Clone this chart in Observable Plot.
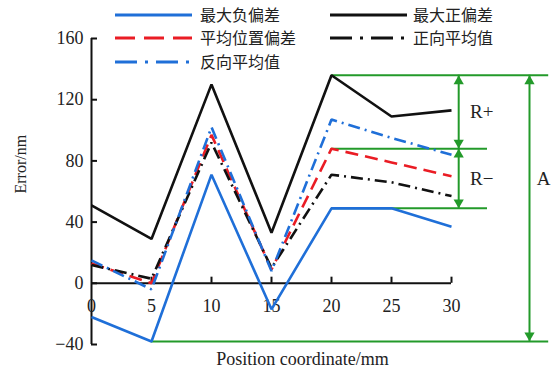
<!DOCTYPE html>
<html><head><meta charset="utf-8">
<script src="https://cdn.jsdelivr.net/npm/d3@7"></script>
<script src="https://cdn.jsdelivr.net/npm/@observablehq/plot@0.6"></script>
<style>
body{margin:0;background:#fff;}
#wrap{position:relative;width:560px;height:374px;}
#legend{position:absolute;left:0;top:0;width:560px;height:80px;pointer-events:none;}
</style></head><body><div id="wrap"></div>
<script>
// ---- data ----
const positions = [0, 5, 10, 15, 20, 25, 30];
const maxNeg  = [-22, -38, 71, -17, 49, 49, 37];     // 最大负偏差
const maxPos  = [51, 29, 130, 33, 136, 109, 113];    // 最大正偏差
const meanPos = [13, 0, 97, 9, 88, 79, 70];          // 平均位置偏差
const fwdMean = [12, 3, 92, 10, 71, 66, 57];         // 正向平均值
const revMean = [15, -4, 102, 8, 107, 95, 84];       // 反向平均值
const seriesNames = ["最大负偏差", "最大正偏差", "平均位置偏差", "正向平均值", "反向平均值"];
const xTicks = [0, 5, 10, 15, 20, 25, 30];
const yTicks = [-40, 0, 40, 80, 120, 160];
const xLabel = "Position coordinate/mm";
const yLabel = "Error/nm";
const annotLabels = ["R+", "R\u2212", "A"];

// ---- styles ----
const BLUE = "#1f6fd8", RED = "#ea1c24", BLACK = "#111", GREEN = "#239a2a";
const styles = [
  {stroke: BLUE, dash: null},
  {stroke: BLACK, dash: null},
  {stroke: RED, dash: "13,7"},
  {stroke: BLACK, dash: "12,5,2,5"},
  {stroke: BLUE, dash: "12,5,2,5"}
];
const seriesValues = [maxNeg, maxPos, meanPos, fwdMean, revMean];

// annotation levels derived from the data
const iTop = d3.maxIndex(maxPos);
const lvTop = maxPos[iTop], lvTopX = positions[iTop];
const lvMid = meanPos[iTop], lvLow = maxNeg[iTop];
const iBot = d3.minIndex(maxNeg);
const lvBot = maxNeg[iBot], lvBotX = positions[iBot];
const longEnd = 38.1, shortEnd = 33.0, rArrowX = 30.6, aArrowX = 36.5;

const serif = "Liberation Serif, Times New Roman, serif";
const downTri = {draw(ctx, size){ const y = Math.sqrt(size / (Math.sqrt(3) * 3)); ctx.moveTo(0, 2*y); ctx.lineTo(-Math.sqrt(3)*y, -y); ctx.lineTo(Math.sqrt(3)*y, -y); ctx.closePath(); }};
const upTri = {draw(ctx, size){ const y = Math.sqrt(size / (Math.sqrt(3) * 3)); ctx.moveTo(0, -2*y); ctx.lineTo(-Math.sqrt(3)*y, y); ctx.lineTo(Math.sqrt(3)*y, y); ctx.closePath(); }};

const hLines = [
  {y: lvTop, x1: lvTopX, x2: longEnd},
  {y: lvMid, x1: lvTopX, x2: shortEnd},
  {y: lvLow, x1: lvTopX, x2: shortEnd},
  {y: lvBot, x1: lvBotX, x2: longEnd}
];
const vLines = [
  {x: rArrowX, y1: lvLow, y2: lvTop},
  {x: aArrowX, y1: lvBot, y2: lvTop}
];
const upHeads = [{x: rArrowX, y: lvTop}, {x: rArrowX, y: lvMid}, {x: aArrowX, y: lvTop}];
const downHeads = [{x: rArrowX, y: lvMid}, {x: rArrowX, y: lvLow}, {x: aArrowX, y: lvBot}];
const labels = [
  {x: rArrowX + 0.95, y: (lvTop + lvMid) / 2, t: annotLabels[0]},
  {x: rArrowX + 0.95, y: (lvMid + lvLow) / 2, t: annotLabels[1]},
  {x: aArrowX + 0.6, y: (lvMid + lvLow) / 2, t: annotLabels[2]}
];

const lineMarks = seriesValues.map((vals, k) =>
  Plot.line(vals, {x: (d, i) => positions[i], y: d => d, stroke: styles[k].stroke,
    strokeWidth: 2.6, strokeDasharray: styles[k].dash, strokeLinejoin: "miter", strokeLinecap: "butt"}));

const chart = Plot.plot({
  width: 560, height: 374,
  marginLeft: 91, marginRight: 109, marginTop: 38, marginBottom: 30,
  x: {domain: [0, 30], axis: null},
  y: {domain: [-40, 160], axis: null},
  style: {background: "#fff", overflow: "visible"},
  marks: [
    // annotation lines
    Plot.ruleY(hLines, {y: "y", x1: "x1", x2: "x2", stroke: GREEN, strokeWidth: 2}),
    Plot.ruleX(vLines, {x: "x", y1: "y1", y2: "y2", stroke: GREEN, strokeWidth: 2}),
    Plot.dot(upHeads, {x: "x", y: "y", dy: 6, symbol: upTri, r: 3.8, fill: GREEN, stroke: null}),
    Plot.dot(downHeads, {x: "x", y: "y", dy: -6, symbol: downTri, r: 3.8, fill: GREEN, stroke: null}),
    Plot.text(labels, {x: "x", y: "y", text: "t", textAnchor: "start", fontSize: 19, fontFamily: serif, fill: "#222"}),
    // axes
    Plot.ruleX([0], {y1: -40, y2: 160, stroke: BLACK, strokeWidth: 2}),
    Plot.ruleY([0], {x1: 0, x2: 30, stroke: BLACK, strokeWidth: 2}),
    Plot.ruleY(yTicks, {x1: 0, x2: 0.5, stroke: BLACK, strokeWidth: 2}),
    Plot.ruleX(xTicks.slice(1), {y1: 0, y2: 4, stroke: BLACK, strokeWidth: 2}),
    Plot.text(yTicks, {x: 0, y: d => d, text: d => d < 0 ? "\u2212" + (-d) : String(d), textAnchor: "end", dx: -8, fontSize: 18, fontFamily: serif, fill: "#222"}),
    Plot.text(xTicks, {x: d => d, y: 0, dy: 23, text: d => String(d), fontSize: 18, fontFamily: serif, fill: "#222"}),
    // series
    ...lineMarks,
    // axis titles
    Plot.text([xLabel], {frameAnchor: "bottom", dx: 31, dy: 20, text: d => d, fontSize: 18, fontFamily: serif, fill: "#222"}),
    Plot.text([yLabel], {frameAnchor: "left", dx: -71, dy: 2, rotate: -90, text: d => d, fontSize: 16, fontFamily: serif, fill: "#222"})
  ]
});
const wrap = document.getElementById("wrap");
wrap.appendChild(chart);

// legend overlay
const legendPos = [
  {lx: 115, tx: 200, y: 15},  // 最大负偏差
  {lx: 330, tx: 413, y: 15},  // 最大正偏差
  {lx: 115, tx: 200, y: 38},  // 平均位置偏差
  {lx: 330, tx: 413, y: 38},  // 正向平均值
  {lx: 115, tx: 200, y: 62}   // 反向平均值
];
const ns = "http://www.w3.org/2000/svg";
const lg = document.createElementNS(ns, "svg");
lg.setAttribute("id", "legend");
lg.setAttribute("width", 560); lg.setAttribute("height", 80);
seriesNames.forEach((name, k) => {
  const p = legendPos[k];
  const ln = document.createElementNS(ns, "line");
  ln.setAttribute("x1", p.lx); ln.setAttribute("x2", p.lx + 77);
  ln.setAttribute("y1", p.y); ln.setAttribute("y2", p.y);
  ln.setAttribute("stroke", styles[k].stroke); ln.setAttribute("stroke-width", 3);
  if (styles[k].dash) ln.setAttribute("stroke-dasharray", k === 2 ? "20,9" : "22,8,3,8");
  lg.appendChild(ln);
  const t = document.createElementNS(ns, "text");
  t.setAttribute("x", p.tx); t.setAttribute("y", p.y);
  t.setAttribute("dy", "0.36em");
  t.setAttribute("font-size", 16);
  t.setAttribute("font-family", "Noto Sans CJK SC, sans-serif");
  t.setAttribute("fill", "#222");
  t.textContent = name;
  lg.appendChild(t);
});
wrap.appendChild(lg);
</script></body></html>
